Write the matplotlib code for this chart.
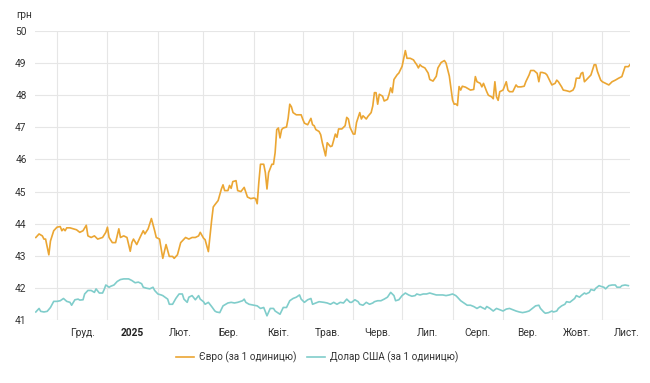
import matplotlib
matplotlib.use('Agg')
import matplotlib.pyplot as plt
import numpy as np
import pandas as pd
from matplotlib.lines import Line2D

plt.rcParams['font.family'] = ['Roboto', 'DejaVu Sans']

# days since 2024-12-01, value in UAH
eur_points = [
    (-13,43.57),(-11,43.68),(-9,43.62),(-8,43.52),(-7,43.52),(-5,43.03),(-4,43.46),(-2,43.78),(0,43.89),(2,43.91),
    (3,43.78),(4,43.84),(5,43.78),(6,43.87),(8,43.87),(10,43.84),(12,43.81),(14,43.73),(16,43.78),(18,43.95),
    (19,43.62),(21,43.57),(23,43.62),(25,43.52),(28,43.57),(30,43.73),(31,43.89),(32,43.57),(34,43.41),(36,43.41),
    (38,43.84),(39,43.57),(41,43.62),(43,43.57),(45,43.14),(46,43.41),(47,43.52),(49,43.35),(51,43.57),(53,43.78),
    (54,43.68),(56,43.84),(58,44.16),(60,43.78),(61,43.57),(63,43.52),(65,42.92),(67,43.35),(69,42.98),(71,42.98),
    (72,42.92),(74,43.03),(76,43.41),(78,43.52),(79,43.57),(81,43.52),(83,43.57),(85,43.57),(87,43.62),(88,43.73),
    (90,43.55),(91,43.5),(93,43.13),(95,44.1),(96,44.52),(97,44.59),(99,44.72),(101,45.08),(102,45.21),(103,45.03),
    (105,45.03),(106,45.19),(107,45.10),(108,45.31),(110,45.34),(111,45.03),(113,45.00),(115,45.13),(117,44.83),(119,44.78),
    (121,44.80),(122,44.78),(123,44.62),(124,45.29),(125,45.85),(127,45.85),(128,45.59),(129,45.08),(130,45.59),(132,45.85),
    (133,45.85),(134,46.21),(135,46.93),(136,46.98),(137,46.67),(138,46.93),(139,46.98),(141,47.01),(142,47.28),(143,47.72),
    (144,47.64),(145,47.46),(147,47.39),(150,47.39),(151,47.25),(152,47.13),(154,47.08),(156,47.28),(157,47.08),(158,47.05),
    (159,46.93),(161,46.87),(162,46.77),(163,46.52),(165,46.11),(166,46.52),(168,46.40),(169,46.42),(171,46.79),(172,46.69),
    (173,46.95),(175,46.95),(177,47.05),(178,47.31),(179,47.26),(180,47.00),(182,46.79),(183,46.79),(184,47.15),(186,47.46),
    (187,47.26),(188,47.36),(190,47.26),(191,47.34),(193,47.46),(194,47.67),(195,48.08),(196,48.08),(197,47.72),(198,48.03),
    (200,47.97),(201,47.82),(203,47.87),(204,48.03),(205,48.23),(206,48.08),(207,48.49),(209,48.64),(210,48.69),(212,48.90),
    (213,49.15),(214,49.39),(215,49.15),(217,49.15),(219,49.10),(220,49.02),(221,48.95),(222,48.85),(223,48.95),(224,48.90),
    (226,48.85),(228,48.69),(229,48.49),(231,48.44),(233,48.59),(234,48.85),(236,49.02),(238,49.08),(239,49.00),(241,48.60),
    (242,48.22),(243,47.85),(244,47.72),(245,47.73),(246,47.68),(247,48.27),(248,48.16),(249,48.28),(251,48.25),(254,48.16),
    (256,48.18),(257,48.58),(258,48.42),(260,48.37),(261,48.26),(262,48.37),(264,48.11),(265,48.00),(267,47.95),(268,47.89),
    (269,48.42),(270,47.95),(271,47.84),(272,48.11),(274,48.16),(276,48.42),(277,48.16),(278,48.11),(280,48.11),(282,48.32),
    (283,48.26),(285,48.26),(287,48.28),(288,48.42),(290,48.63),(291,48.77),(293,48.77),(295,48.68),(296,48.42),(297,48.71),
    (298,48.71),(300,48.68),(301,48.63),(303,48.42),(304,48.32),(306,48.37),(307,48.47),(308,48.42),(310,48.26),(311,48.16),
    (313,48.14),(315,48.11),(317,48.16),(318,48.26),(319,48.53),(321,48.53),(322,48.68),(323,48.71),(324,48.42),(325,48.47),
    (327,48.58),(328,48.63),(329,48.79),(330,48.95),(331,48.95),(332,48.74),(334,48.47),(335,48.42),(337,48.37),(339,48.32),
    (341,48.42),(343,48.47),(345,48.53),(347,48.58),(348,48.74),(349,48.89),(351,48.89),(352,48.95),
]

usd_points = [
    (-13,41.25),(-11,41.36),(-10,41.27),(-8,41.25),(-6,41.27),(-4,41.39),(-2,41.58),(0,41.58),(2,41.60),(4,41.67),
    (6,41.58),(8,41.55),(9,41.46),(11,41.63),(13,41.65),(14,41.62),(16,41.63),(17,41.81),(19,41.92),(21,41.92),
    (23,41.86),(24,41.97),(26,41.84),(28,41.84),(29,41.95),(30,42.09),(32,42.02),(33,42.05),(35,42.09),(37,42.20),
    (39,42.26),(41,42.28),(44,42.28),(46,42.23),(48,42.16),(50,42.18),(52,42.13),(53,42.02),(55,41.99),(57,41.97),
    (59,42.02),(60,41.92),(62,41.81),(64,41.78),(65,41.76),(68,41.65),(69,41.49),(71,41.49),(73,41.67),(75,41.81),
    (77,41.81),(78,41.65),(80,41.55),(81,41.71),(83,41.76),(85,41.63),(87,41.76),(88,41.65),(90,41.57),(91,41.49),
    (93,41.55),(95,41.42),(97,41.28),(98,41.25),(100,41.23),(102,41.44),(105,41.53),(107,41.55),(109,41.53),(111,41.55),
    (114,41.60),(115,41.65),(116,41.55),(118,41.49),(121,41.46),(123,41.44),(125,41.36),(127,41.39),(129,41.13),(131,41.36),
    (133,41.36),(134,41.28),(137,41.18),(139,41.39),(141,41.39),(143,41.60),(145,41.67),(147,41.71),(149,41.78),(150,41.65),
    (152,41.55),(154,41.63),(156,41.67),(157,41.49),(160,41.55),(161,41.57),(164,41.55),(166,41.53),(168,41.49),(170,41.55),
    (172,41.49),(174,41.55),(176,41.53),(178,41.65),(180,41.55),(181,41.55),(183,41.63),(185,41.57),(186,41.49),(188,41.46),
    (190,41.55),(192,41.49),(194,41.53),(195,41.57),(197,41.60),(199,41.60),(201,41.65),(203,41.71),(205,41.86),(207,41.76),
    (208,41.60),(210,41.63),(212,41.76),(214,41.84),(216,41.78),(218,41.74),(220,41.76),(221,41.81),(223,41.78),(225,41.81),
    (227,41.81),(229,41.84),(231,41.81),(233,41.78),(235,41.78),(237,41.78),(239,41.76),(241,41.78),(243,41.81),(245,41.76),
    (246,41.71),(248,41.60),(250,41.53),(252,41.46),(254,41.46),(256,41.42),(258,41.36),(260,41.42),(261,41.39),(263,41.34),
    (264,41.42),(266,41.36),(268,41.28),(270,41.36),(272,41.32),(274,41.28),(276,41.34),(278,41.36),(280,41.32),(282,41.28),
    (284,41.25),(286,41.23),(288,41.25),(290,41.28),(292,41.36),(294,41.44),(296,41.46),(297,41.36),(299,41.25),(300,41.21),
    (302,41.23),(304,41.28),(305,41.25),(307,41.28),(308,41.36),(310,41.44),(312,41.49),(313,41.57),(315,41.55),(317,41.63),
    (318,41.67),(319,41.76),(321,41.71),(322,41.76),(324,41.84),(325,41.81),(327,41.86),(328,41.95),(330,41.92),(331,41.99),
    (333,42.07),(334,42.05),(336,42.02),(337,41.97),(339,42.07),(341,42.09),(343,42.09),(344,42.02),(346,42.02),(347,42.07),
    (349,42.09),(351,42.07),
]

month_labels = ['Груд.', '2025', 'Лют.', 'Бер.', 'Квіт.', 'Трав.', 'Черв.',
                'Лип.', 'Серп.', 'Вер.', 'Жовт.', 'Лист.']
y_ticks = [41, 42, 43, 44, 45, 46, 47, 48, 49, 50]
series_names = ['Євро (за 1 одиницю)', 'Долар США (за 1 одиницю)']
colors = ['#EBA633', '#80CDCB']

base = pd.Timestamp('2024-12-01')
def to_dates(pts):
    d = [base + pd.Timedelta(days=p[0]) for p in pts]
    v = [p[1] for p in pts]
    return d, v

eur_x, eur_y = to_dates(eur_points)
usd_x, usd_y = to_dates(usd_points)

fig = plt.figure(figsize=(6.5, 3.83), dpi=100)
ax = fig.add_axes([35/650, 1-320/383, 595/650, 289/383])

ax.plot(usd_x, usd_y, color=colors[1], lw=1.2, zorder=3)
ax.plot(eur_x, eur_y, color=colors[0], lw=1.2, zorder=4)

ax.set_ylim(41, 50)
ax.set_xlim(base - pd.Timedelta(days=13.5), base + pd.Timedelta(days=352))

month_starts = pd.date_range('2024-12-01', periods=13, freq='MS')
mids = [month_starts[i] + (month_starts[i+1] - month_starts[i]) / 2 for i in range(12)]

ax.set_xticks(mids)
ax.set_xticklabels(month_labels)
ax.set_xticks(list(month_starts[:-1]), minor=True)
ax.set_yticks(y_ticks)
ax.set_yticklabels([str(t) for t in y_ticks])

ax.grid(which='minor', axis='x', color='#e6e6e6', lw=0.8)
ax.grid(which='major', axis='y', color='#e6e6e6', lw=0.8)
ax.grid(which='major', axis='x', visible=False)
ax.set_axisbelow(True)

for s in ax.spines.values():
    s.set_visible(False)
ax.tick_params(which='both', length=0)
ax.tick_params(axis='y', pad=6, labelsize=7.3, labelcolor='#333333')
ax.tick_params(axis='x', pad=6, labelsize=7.3, labelcolor='#333333')
for lbl in ax.get_xticklabels():
    if lbl.get_text() == '2025':
        lbl.set_fontweight('bold')
        lbl.set_color('#222222')

fig.text(16/650, 1-15/383, 'грн', fontsize=7.3, color='#333333', va='center', ha='left')

handles = [Line2D([], [], color=colors[0], lw=1.2),
           Line2D([], [], color=colors[1], lw=1.2)]
fig.legend(handles, series_names, loc='center', bbox_to_anchor=(317/650, 1-357/383),
           ncol=2, frameon=False, fontsize=7.2, handlelength=1.8, handletextpad=0.5,
           columnspacing=1.1, labelcolor='#333333')

fig.savefig('out.png', dpi=100)
